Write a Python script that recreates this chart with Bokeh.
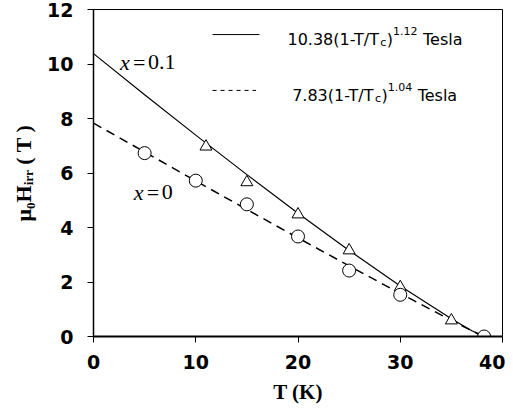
from bokeh.plotting import figure
from bokeh.models import Range1d, FixedTicker, Label
from bokeh.embed import file_html
from bokeh.resources import INLINE

# measured points
T_x0 = [5, 10, 15, 20, 25, 30, 38.2]
H_x0 = [6.73, 5.72, 4.85, 3.67, 2.42, 1.53, 0.0]
T_x01 = [11, 15, 20, 25, 30, 35]
H_x01 = [6.97, 5.66, 4.48, 3.16, 1.81, 0.59]

# fit curves
T_fit = [0, 5, 10, 15, 20, 25, 30, 35, 37, 38.2]
H_fit_x01 = [10.38, 8.87, 7.39, 5.94, 4.52, 3.16, 1.85, 0.65, 0.21, 0.0]
H_fit_x0 = [7.83, 6.77, 5.71, 4.66, 3.62, 2.59, 1.58, 0.59, 0.21, 0.0]

x_ticks = [0, 10, 20, 30, 40]
y_ticks = [0, 2, 4, 6, 8, 10, 12]

p = figure(width=505, height=410, output_backend="svg", toolbar_location=None,
           x_range=Range1d(0, 40), y_range=Range1d(0, 12),
           min_border_left=93, min_border_right=3, min_border_top=9, min_border_bottom=74)
p.grid.visible = False
p.outline_line_color = "black"
p.outline_line_width = 1
p.background_fill_color = "white"

for ax in (p.xaxis[0], p.yaxis[0]):
    ax.major_label_text_font = "DejaVu Sans"
    ax.major_label_text_font_style = "bold"
    ax.major_label_text_font_size = "19px"
    ax.major_label_text_color = "black"
    ax.axis_line_color = "black"
    ax.major_tick_line_color = "black"
    ax.major_tick_in = 0
    ax.major_tick_out = 6
    ax.minor_tick_line_color = None
    ax.axis_label_text_font = "Liberation Serif"
    ax.axis_label_text_font_style = "bold"
    ax.axis_label_text_color = "black"

p.xaxis[0].ticker = FixedTicker(ticks=x_ticks)
p.yaxis[0].ticker = FixedTicker(ticks=y_ticks)
p.xaxis[0].axis_line_width = 2
p.yaxis[0].axis_line_width = 1.5
p.xaxis[0].major_label_standoff = 12
p.yaxis[0].major_label_standoff = 14
p.xaxis[0].axis_label = "T (K)"
p.yaxis[0].axis_label = "μ₀Hᵢᵣᵣ ( T )"
p.xaxis[0].axis_label_text_font_size = "21px"
p.yaxis[0].axis_label_text_font_size = "22px"
p.xaxis[0].axis_label_standoff = 8
p.yaxis[0].axis_label_standoff = 8

p.line(T_fit, H_fit_x01, line_color="black", line_width=1.2)
p.line(T_fit, H_fit_x0, line_color="black", line_width=1.5, line_dash="9 6")
p.scatter(T_x01, H_x01, marker="triangle", size=12, fill_color="white",
          line_color="black", line_width=1)
p.scatter(T_x0, H_x0, marker="circle", size=13, fill_color="white",
          line_color="black", line_width=1)

# legend samples
p.line([11.64, 16.23], [11.08, 11.08], line_color="black", line_width=1)
p.line([11.64, 15.9], [9.03, 9.03], line_color="black", line_width=1, line_dash="4 4")

def legend_text(x, y, parts):
    off = 0.0
    for txt, size, dy, w in parts:
        p.add_layout(Label(x=x, y=y, x_offset=off, y_offset=dy, text=txt,
                           text_font="DejaVu Sans", text_font_size=f"{size}px",
                           text_color="black", text_baseline="alphabetic"))
        off += w

s, ss = 16, 11
legend_text(18.97, 10.90, [("10.38(1-T/T", s, 0, 92.9), ("c", ss, -3, 6.5), (")", s, 0, 6.2),
                           ("1.12", ss, 8, 30.0), ("Tesla", s, 0, 0)])
legend_text(19.43, 8.85, [("7.83(1-T/T", s, 0, 82.8), ("c", ss, -3, 6.5), (")", s, 0, 6.2),
                          ("1.04", ss, 8, 30.0), ("Tesla", s, 0, 0)])

def xlabel(x, y, rest):
    p.add_layout(Label(x=x, y=y, text="x", text_font="Liberation Serif",
                       text_font_style="italic", text_font_size="22px", text_color="black",
                       text_baseline="alphabetic"))
    p.add_layout(Label(x=x, y=y, x_offset=13, text="=", text_font="Liberation Serif",
                       text_font_size="22px", text_color="black", text_baseline="alphabetic"))
    p.add_layout(Label(x=x, y=y, x_offset=28, text=rest, text_font="Liberation Serif",
                       text_font_size="22px", text_color="black", text_baseline="alphabetic"))

xlabel(2.6, 10.07, "0.1")
xlabel(3.94, 5.3, "0")

open("out.html", "w").write(file_html(p, INLINE))
